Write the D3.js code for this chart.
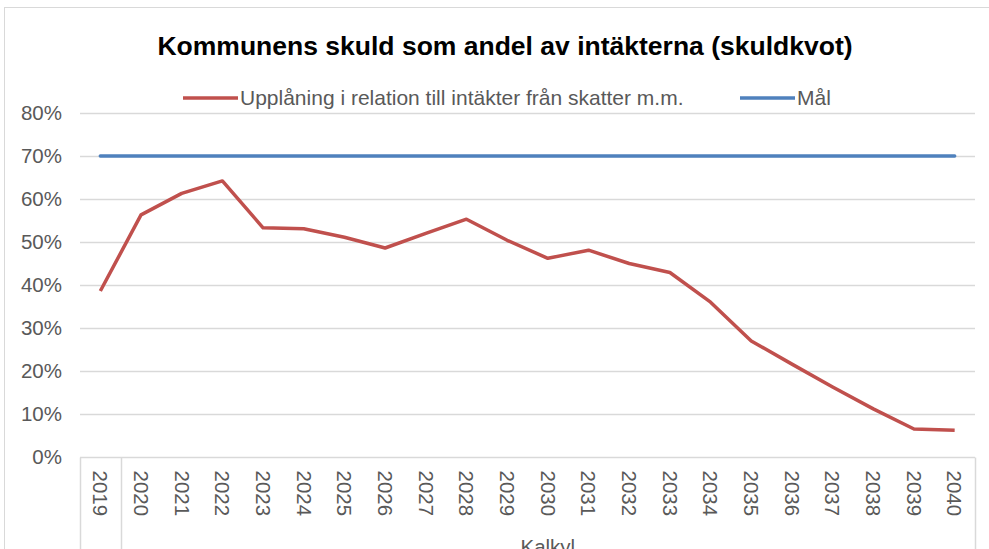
<!DOCTYPE html>
<html>
<head>
<meta charset="utf-8">
<script src="https://cdn.jsdelivr.net/npm/d3@7"></script>
<style>
  body { margin: 0; background: #fff; }
  svg { display: block; font-family: "Liberation Sans", Arial, sans-serif; }
</style>
</head>
<body>
<div id="chart"></div>
<script>
// data
const years = ['2019', '2020', '2021', '2022', '2023', '2024', '2025', '2026', '2027', '2028', '2029',
  '2030', '2031', '2032', '2033', '2034', '2035', '2036', '2037', '2038', '2039', '2040'];
const skuldkvot = [38.6, 56.3, 61.3, 64.2, 53.3, 53.1, 51.1, 48.6, 52.0, 55.3, 50.4,
  46.2, 48.1, 45.0, 42.9, 36.0, 27.0, 21.6, 16.3, 11.2, 6.5, 6.2];
const mal = years.map(() => 70);
const yTicks = [0, 10, 20, 30, 40, 50, 60, 70, 80];
const groups = [{ label: '', from: '2019', to: '2019' }, { label: 'Kalkyl', from: '2020', to: '2040' }];
const seriesNames = ['Upplåning i relation till intäkter från skatter m.m.', 'Mål'];

const W = 989, H = 549;
const margin = { top: 113, right: 14, bottom: 92, left: 80 };
const colors = ['#c0504d', '#4f81bd'];
const textCol = '#595959';

const svg = d3.select('#chart').append('svg')
  .attr('width', W).attr('height', H);

// ram runt diagrammet
svg.append('rect')
  .attr('x', 4.5).attr('y', 7.5)
  .attr('width', 1010).attr('height', 600)
  .attr('fill', 'none').attr('stroke', '#d9d9d9');

const x = d3.scaleBand().domain(years).range([margin.left, W - margin.right]);
const y = d3.scaleLinear().domain([0, 80]).range([H - margin.bottom, margin.top]);

// rutnät
svg.append('g')
  .selectAll('line')
  .data(yTicks)
  .join('line')
  .attr('x1', margin.left).attr('x2', W - margin.right)
  .attr('y1', d => Math.round(y(d)) + 0.5).attr('y2', d => Math.round(y(d)) + 0.5)
  .attr('stroke', '#d9d9d9').attr('stroke-width', 1.5);

// y-axel
const yAxis = svg.append('g')
  .attr('transform', `translate(65,0)`)
  .call(d3.axisLeft(y).tickValues(yTicks).tickFormat(d => d + '%').tickSize(0));
yAxis.select('.domain').remove();
yAxis.selectAll('text')
  .attr('fill', textCol).attr('font-size', 20.5)
  .attr('font-family', '"Liberation Sans", Arial, sans-serif');

// x-axel, två nivåer
const y0 = Math.round(y(0)) + 0.5;
const xAxis = svg.append('g')
  .attr('transform', `translate(0,${y0})`)
  .call(d3.axisBottom(x).tickSize(0));
xAxis.select('.domain').remove();
xAxis.selectAll('text')
  .attr('fill', textCol).attr('font-size', 20.5)
  .attr('font-family', '"Liberation Sans", Arial, sans-serif')
  .attr('transform', 'rotate(90)')
  .attr('x', 13).attr('y', 0).attr('dy', '0.35em')
  .attr('text-anchor', 'start');

const bounds = groups.map(g => x(g.from));
bounds.push(x(years[years.length - 1]) + x.bandwidth());

svg.append('g')
  .selectAll('line')
  .data(bounds)
  .join('line')
  .attr('x1', d => Math.round(d) + 0.5).attr('x2', d => Math.round(d) + 0.5)
  .attr('y1', y0).attr('y2', H)
  .attr('stroke', '#d9d9d9').attr('stroke-width', 1.5);

svg.append('g')
  .selectAll('text')
  .data(groups.filter(g => g.label))
  .join('text')
  .attr('x', g => (x(g.from) + x(g.to) + x.bandwidth()) / 2)
  .attr('y', 554)
  .attr('text-anchor', 'middle')
  .attr('fill', textCol).attr('font-size', 20.5)
  .text(g => g.label);

// linjer
const line = d3.line()
  .x((d, i) => x(years[i]) + x.bandwidth() / 2)
  .y(d => y(d));

svg.append('path')
  .datum(skuldkvot)
  .attr('fill', 'none')
  .attr('stroke', colors[0]).attr('stroke-width', 3.5)
  .attr('stroke-linejoin', 'round')
  .attr('d', line);

svg.append('path')
  .datum(mal)
  .attr('fill', 'none')
  .attr('stroke', colors[1]).attr('stroke-width', 3.5)
  .attr('stroke-linecap', 'round')
  .attr('d', line);

// titel
svg.append('text')
  .attr('x', 505).attr('y', 55)
  .attr('text-anchor', 'middle')
  .attr('font-size', 26.5).attr('font-weight', 'bold')
  .attr('fill', '#000')
  .text('Kommunens skuld som andel av intäkterna (skuldkvot)');

// förklaring
const legendX = [183, 740];
const leg = svg.append('g')
  .selectAll('g')
  .data(seriesNames)
  .join('g')
  .attr('transform', (d, i) => `translate(${legendX[i]},98)`);
leg.append('line')
  .attr('x1', 0).attr('x2', 55)
  .attr('stroke', (d, i) => colors[i]).attr('stroke-width', 3.5);
leg.append('text')
  .attr('x', 57).attr('dy', '0.35em')
  .attr('fill', textCol).attr('font-size', 21)
  .text(d => d);
</script>
</body>
</html>
